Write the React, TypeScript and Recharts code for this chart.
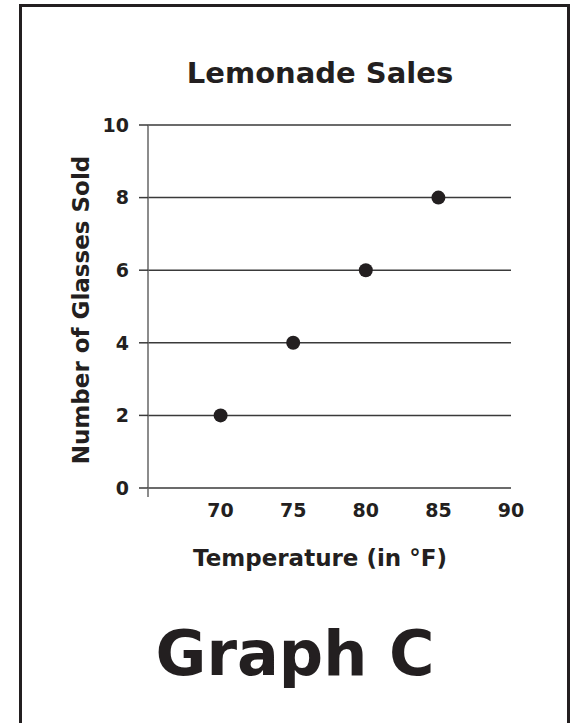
import { CartesianGrid, Scatter, ScatterChart, XAxis, YAxis } from 'recharts';

const temperatures = [70, 75, 80, 85];
const glassesSold = [2, 4, 6, 8];
const xTicks = [65, 70, 75, 80, 85, 90];
const yTicks = [0, 2, 4, 6, 8, 10];

const data = temperatures.map((t, i) => ({ temp: t, glasses: glassesSold[i] }));

const INK = '#231f20';
const FONT = '"DejaVu Sans", Verdana, sans-serif';

const XTick = ({ x, y, payload }: any) => {
  // the first tick carries no label, just the short stub under the y axis
  if (payload.value === 65) {
    return <line x1={x} y1={y} x2={x} y2={y + 9} stroke='#666' strokeWidth={1.5} />;
  }
  return (
    <text x={x} y={y + 29} textAnchor='middle' fill={INK} fontSize={19} fontWeight='bold' fontFamily={FONT}>
      {payload.value}
    </text>
  );
};

const YTick = ({ x, y, payload }: any) => (
  <text x={x} y={y} dy='0.36em' textAnchor='end' fill={INK} fontSize={19} fontWeight='bold' fontFamily={FONT}>
    {payload.value}
  </text>
);

const Dot = ({ cx, cy }: any) => <circle cx={cx} cy={cy} r={7} fill={INK} />;

export default function App() {
  return (
    <div style={{ position: 'absolute', left: 0, top: 0, width: 574, height: 723, overflow: 'hidden', background: '#fff' }}>
      <div
        style={{
          position: 'absolute',
          left: 19,
          top: 4,
          width: 551,
          height: 760,
          boxSizing: 'border-box',
          border: `3px solid ${INK}`,
        }}
      />
      <div style={{ position: 'absolute', left: 0, top: 0 }}>
        <ScatterChart width={574} height={723} margin={{ top: 125, right: 63, left: 88, bottom: 205 }}>
          <CartesianGrid vertical={false} stroke='#3a3a3a' strokeWidth={1.5} />
          <XAxis
            type='number'
            dataKey='temp'
            domain={[65, 90]}
            ticks={xTicks}
            axisLine={false}
            tickLine={false}
            tickSize={0}
            tickMargin={0}
            tick={<XTick />}
            interval={0}
          />
          <YAxis
            type='number'
            dataKey='glasses'
            domain={[0, 10]}
            ticks={yTicks}
            axisLine={{ stroke: '#666', strokeWidth: 1.5 }}
            tickLine={{ stroke: '#3a3a3a', strokeWidth: 1.5 }}
            tickSize={9}
            tickMargin={10}
            tick={<YTick />}
            interval={0}
          />
          <Scatter data={data} shape={<Dot />} isAnimationActive={false} />
        </ScatterChart>
      </div>
      <svg width={574} height={723} style={{ position: 'absolute', left: 0, top: 0, pointerEvents: 'none' }}>
        <g fill={INK} fontFamily={FONT} fontWeight='bold'>
          <text x={320} y={83} textAnchor='middle' fontSize={29}>
            Lemonade Sales
          </text>
          <text x={320} y={566} textAnchor='middle' fontSize={23}>
            Temperature (in °F)
          </text>
          <text x={89} y={310} textAnchor='middle' fontSize={23} transform='rotate(-90 89 310)'>
            Number of Glasses Sold
          </text>
          <text x={295} y={675} textAnchor='middle' fontSize={62}>
            Graph C
          </text>
        </g>
      </svg>
    </div>
  );
}
